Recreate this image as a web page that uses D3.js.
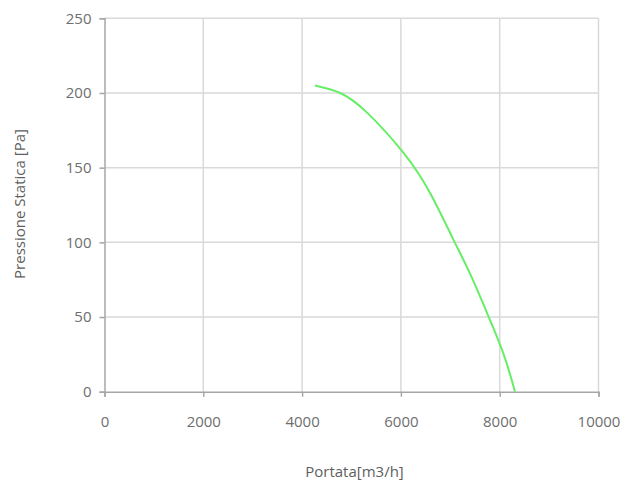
<!DOCTYPE html>
<html>
<head>
<meta charset="utf-8">
<script src="https://cdn.jsdelivr.net/npm/d3@7"></script>
<style>
body{margin:0;background:#fff;}
text{font-family:"Open Sans",sans-serif;fill:#7a7a7a;}
</style>
</head>
<body>
<div id="chart"></div>
<script>
/* data */
var portata = [4260, 4770, 5310, 6050, 6590, 7060, 7400, 7740, 8070, 8310];
var pressione = [205, 200, 187, 160, 133, 102, 79, 53, 26, 0];
var xTicks = [0, 2000, 4000, 6000, 8000, 10000];
var yTicks = [0, 50, 100, 150, 200, 250];

var width = 641, height = 486;
var plotLeft = 104.5, plotRight = 598.5, plotTop = 18.3, plotBottom = 391.7;

var svg = d3.select('#chart')
    .append('svg')
    .attr('width', width)
    .attr('height', height);

var x = d3.scaleLinear().domain([0, 10000]).range([plotLeft, plotRight]);
var y = d3.scaleLinear().domain([0, 250]).range([plotBottom, plotTop]);

// grid
svg.selectAll('line.gx')
    .data(xTicks.slice(1))
    .enter()
    .append('line')
    .attr('x1', function(d){ return x(d); })
    .attr('x2', function(d){ return x(d); })
    .attr('y1', plotTop)
    .attr('y2', plotBottom)
    .attr('stroke', '#d9d9d9')
    .attr('stroke-width', 1.5);
svg.selectAll('line.gy')
    .data(yTicks.slice(1))
    .enter()
    .append('line')
    .attr('x1', plotLeft)
    .attr('x2', plotRight)
    .attr('y1', function(d){ return y(d); })
    .attr('y2', function(d){ return y(d); })
    .attr('stroke', '#d9d9d9')
    .attr('stroke-width', 1.5);

// axes
var xAxis = svg.append('g')
    .attr('transform', 'translate(0,' + plotBottom + ')')
    .call(d3.axisBottom(x).tickValues(xTicks).tickSize(5).tickPadding(20).tickFormat(d3.format('d')));
var yAxis = svg.append('g')
    .attr('transform', 'translate(' + plotLeft + ',0)')
    .call(d3.axisLeft(y).tickValues(yTicks).tickSize(5).tickPadding(8));

[xAxis, yAxis].forEach(function(a){
    a.select('.domain').attr('stroke', '#a6a6a6').attr('stroke-width', 1.5);
    a.selectAll('.tick line').attr('stroke', '#a6a6a6').attr('stroke-width', 1.5);
    a.selectAll('.tick text')
        .style('font-family', '"Open Sans",sans-serif')
        .style('font-size', '15px')
        .style('fill', '#6e6e6e');
});

// curve
var line = d3.line()
    .x(function(d, i){ return x(portata[i]); })
    .y(function(d){ return y(d); })
    .curve(d3.curveNatural);

svg.append('path')
    .datum(pressione)
    .attr('d', line)
    .attr('fill', 'none')
    .attr('stroke', '#66ee66')
    .attr('stroke-width', 2);

// titles
svg.append('text')
    .attr('x', 354.5)
    .attr('y', 477)
    .attr('text-anchor', 'middle')
    .style('font-size', '15px')
    .style('fill', '#5e5e5e')
    .text('Portata[m3/h]');

svg.append('text')
    .attr('transform', 'translate(25,204) rotate(-90)')
    .attr('text-anchor', 'middle')
    .style('font-size', '15px')
    .style('fill', '#5e5e5e')
    .text('Pressione Statica [Pa]');
</script>
</body>
</html>
